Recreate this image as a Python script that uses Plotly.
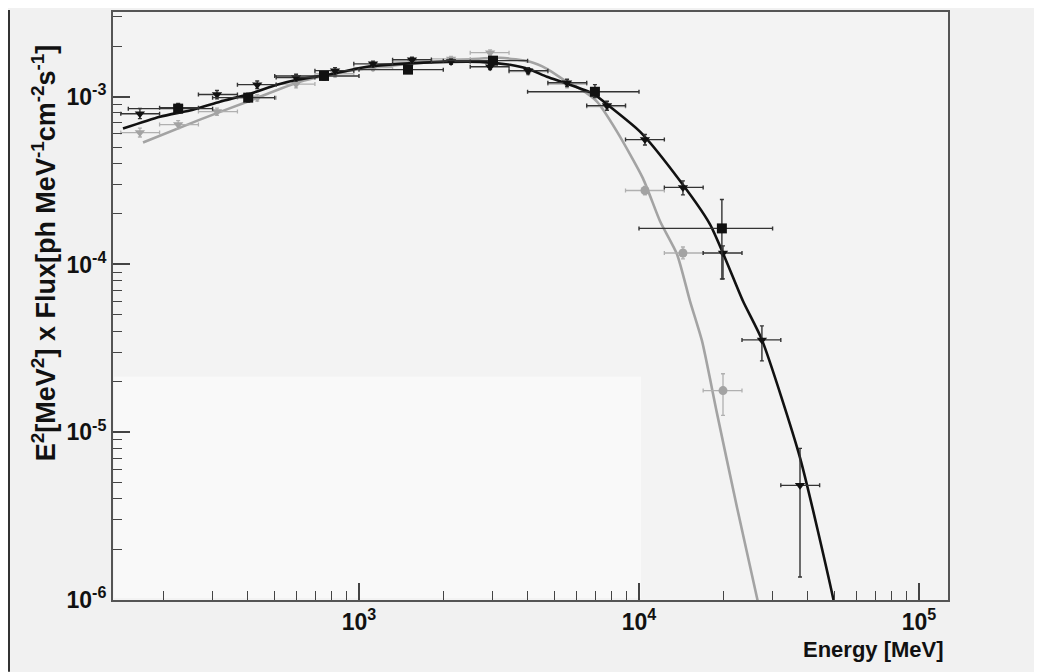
import plotly.graph_objects as go

# ---------------- data ----------------
# black inverted triangles
tri_E = [165, 226, 311, 433, 596, 821, 1122, 1546, 2132, 2939, 4018, 5534, 7687, 10502, 14354, 19953, 27479, 37584]
tri_F = [7.92e-4, 8.6e-4, 1.03e-3, 1.18e-3, 1.30e-3, 1.43e-3, 1.57e-3, 1.66e-3, 1.62e-3, 1.51e-3, 1.43e-3,
         1.21e-3, 8.85e-4, 5.55e-4, 2.88e-4, 1.17e-4, 3.55e-5, 4.82e-6]
tri_Elo = [141, 194, 267, 368, 506, 696, 958, 1318, 1814, 2496, 3435, 4727, 6505, 8951, 12318, 16950, 23325, 32098]
tri_Ehi = [194, 267, 368, 506, 696, 958, 1318, 1814, 2496, 3435, 4727, 6505, 8951, 12318, 16950, 23325, 32098, 44170]
tri_Flo = [7.4e-4, 8.1e-4, 9.7e-4, 1.12e-3, 1.24e-3, 1.37e-3, 1.51e-3, 1.60e-3, 1.56e-3, 1.45e-3, 1.37e-3,
           1.15e-3, 8.3e-4, 5.15e-4, 2.6e-4, 8.2e-5, 2.66e-5, 1.37e-6]
tri_Fhi = [8.5e-4, 9.1e-4, 1.09e-3, 1.24e-3, 1.36e-3, 1.49e-3, 1.63e-3, 1.72e-3, 1.68e-3, 1.57e-3, 1.49e-3,
           1.27e-3, 9.4e-4, 5.95e-4, 3.15e-4, 1.29e-4, 4.30e-5, 8.0e-6]

# black squares
sq_E = [226, 402, 750, 1496, 3010, 6960, 19770]
sq_F = [8.49e-4, 9.87e-4, 1.33e-3, 1.45e-3, 1.64e-3, 1.07e-3, 1.64e-4]
sq_Elo = [150, 300, 500, 1000, 2000, 4000, 10000]
sq_Ehi = [300, 500, 1000, 2000, 4000, 10000, 30000]
sq_Flo = [8.0e-4, 9.3e-4, 1.26e-3, 1.38e-3, 1.56e-3, 9.9e-4, 8.18e-5]
sq_Fhi = [9.0e-4, 1.05e-3, 1.40e-3, 1.52e-3, 1.72e-3, 1.18e-3, 2.44e-4]

# gray points
gr_E = [165, 226, 311, 433, 596, 821, 1122, 1546, 2132, 2939, 4018, 5534, 7687, 10502, 14354, 19953]
gr_F = [6.11e-4, 6.82e-4, 8.15e-4, 9.86e-4, 1.19e-3, 1.37e-3, 1.49e-3, 1.61e-3, 1.68e-3, 1.83e-3, 1.41e-3,
        1.19e-3, 8.73e-4, 2.76e-4, 1.17e-4, 1.77e-5]
gr_Elo = [141, 194, 267, 368, 506, 696, 958, 1318, 1814, 2496, 3435, 4727, 6505, 8951, 12318, 16950]
gr_Ehi = [194, 267, 368, 506, 696, 958, 1318, 1814, 2496, 3435, 4727, 6505, 8951, 12318, 16950, 23325]
gr_Flo = [5.75e-4, 6.45e-4, 7.75e-4, 9.4e-4, 1.13e-3, 1.31e-3, 1.43e-3, 1.55e-3, 1.62e-3, 1.76e-3, 1.35e-3,
          1.13e-3, 8.3e-4, 2.6e-4, 1.08e-4, 1.26e-5]
gr_Fhi = [6.5e-4, 7.2e-4, 8.55e-4, 1.03e-3, 1.25e-3, 1.43e-3, 1.55e-3, 1.67e-3, 1.74e-3, 1.90e-3, 1.47e-3,
          1.25e-3, 9.2e-4, 2.92e-4, 1.27e-4, 2.23e-5]

# black model curve
bc_E = [143.6, 194.7, 255.5, 318.8, 408, 509.7, 600.6, 807.5, 1068, 1400, 2061, 2705, 3461, 4014, 4690, 5531,
        6851, 7874, 10080, 13220, 17930, 23510, 27490, 37580, 49320, 54460]
bc_F = [6.46e-4, 7.60e-4, 8.37e-4, 9.34e-4, 1.042e-3, 1.178e-3, 1.262e-3, 1.370e-3, 1.508e-3, 1.570e-3, 1.614e-3,
        1.614e-3, 1.549e-3, 1.466e-3, 1.314e-3, 1.194e-3, 1.042e-3, 8.72e-4, 6.19e-4, 3.58e-4, 1.734e-4,
        6.05e-5, 3.55e-5, 7.06e-6, 1.03e-6, 4.4e-7]

# gray model curve
gc_E = [169.3, 270.4, 408, 615.6, 928.5, 1400, 2113, 3189, 4083, 4690, 5531, 6155, 7079, 8345, 10330, 11890,
        13670, 15210, 16790, 19000, 22390, 26390, 29380]
gc_F = [5.33e-4, 7.30e-4, 9.47e-4, 1.227e-3, 1.427e-3, 1.549e-3, 1.637e-3, 1.706e-3, 1.614e-3, 1.466e-3,
        1.227e-3, 1.117e-3, 9.34e-4, 6.19e-4, 3.26e-4, 1.81e-4, 1.151e-4, 6.05e-5, 3.50e-5, 1.29e-5, 3.56e-6,
        1.03e-6, 4.4e-7]

x_major = [1e3, 1e4, 1e5]
x_major_text = ["10<sup>3</sup>", "10<sup>4</sup>", "10<sup>5</sup>"]
y_major = [1e-6, 1e-5, 1e-4, 1e-3]
y_major_text = ["10<sup>-6</sup>", "10<sup>-5</sup>", "10<sup>-4</sup>", "10<sup>-3</sup>"]

# ---------------- figure ----------------
BLACK = "#111111"
GRAY = "#a3a3a3"
FONT = "Liberation Sans Narrow, Liberation Sans, Arial, sans-serif"


def err(vals, lo, hi):
    return ([h - v for v, h in zip(vals, hi)], [v - l for v, l in zip(vals, lo)])


fig = go.Figure()

fig.add_trace(go.Scatter(x=gc_E, y=gc_F, mode="lines", line=dict(color=GRAY, width=2.6, shape="spline", smoothing=0.6),
                         hoverinfo="skip", showlegend=False))
gx_p, gx_m = err(gr_E, gr_Elo, gr_Ehi)
gy_p, gy_m = err(gr_F, gr_Flo, gr_Fhi)
gr_sym = ["triangle-down" if e < 9000 else "circle" for e in gr_E]
fig.add_trace(go.Scatter(x=gr_E, y=gr_F, mode="markers",
                         marker=dict(symbol=gr_sym, size=9, color=GRAY),
                         error_x=dict(type="data", array=gx_p, arrayminus=gx_m, color="#b0b0b0", thickness=1.3, width=2),
                         error_y=dict(type="data", array=gy_p, arrayminus=gy_m, color="#b0b0b0", thickness=1.3, width=2),
                         showlegend=False))
fig.add_trace(go.Scatter(x=bc_E, y=bc_F, mode="lines", line=dict(color=BLACK, width=2.6, shape="spline", smoothing=0.6),
                         hoverinfo="skip", showlegend=False))
tx_p, tx_m = err(tri_E, tri_Elo, tri_Ehi)
ty_p, ty_m = err(tri_F, tri_Flo, tri_Fhi)
fig.add_trace(go.Scatter(x=tri_E, y=tri_F, mode="markers",
                         marker=dict(symbol="triangle-down", size=9, color=BLACK),
                         error_x=dict(type="data", array=tx_p, arrayminus=tx_m, color="#333333", thickness=1.4, width=2),
                         error_y=dict(type="data", array=ty_p, arrayminus=ty_m, color="#333333", thickness=1.4, width=2),
                         showlegend=False))
sx_p, sx_m = err(sq_E, sq_Elo, sq_Ehi)
sy_p, sy_m = err(sq_F, sq_Flo, sq_Fhi)
fig.add_trace(go.Scatter(x=sq_E, y=sq_F, mode="markers",
                         marker=dict(symbol="square", size=10, color=BLACK),
                         error_x=dict(type="data", array=sx_p, arrayminus=sx_m, color="#333333", thickness=1.4, width=2),
                         error_y=dict(type="data", array=sy_p, arrayminus=sy_m, color="#333333", thickness=1.4, width=2),
                         showlegend=False))

# page offset of the figure (default body margin of the page)
OFF = 8
W, H = 1042 - OFF, 672 - OFF
L, T = 113 - OFF, 10 - OFF
pw, ph = 835, 590
R = W - L - pw
B = H - T - ph


def px(xp):  # page pixel -> paper x
    return (xp - OFF - L) / pw


def py(yp):  # page pixel -> paper y
    return (T + ph - (yp - OFF)) / ph


minor_x = [v * m for m in (100, 1000, 10000) for v in range(2, 10)]
minor_x = [v for v in minor_x if 132 < v < 127000]
minor_y = [v * m for m in (1e-6, 1e-5, 1e-4, 1e-3) for v in range(2, 10)]
minor_y = [v for v in minor_y if v < 3.2e-3]

fig.update_layout(
    width=W, height=H,
    margin=dict(l=L, r=R, t=T, b=B),
    paper_bgcolor="#f1f1f1",
    plot_bgcolor="#f3f3f3",
    font=dict(family=FONT, color="#111111"),
    xaxis=dict(type="log", range=[2.1214, 5.1036], showgrid=False, zeroline=False,
               tickmode="array", tickvals=x_major, ticktext=[f"<b>{t}</b>" for t in x_major_text],
               ticks="inside", ticklen=17, tickwidth=1.5, tickcolor="#444444",
               tickfont=dict(size=23, family=FONT, color="#111111"),
               minor=dict(tickmode="array", tickvals=minor_x, ticks="inside", ticklen=9, tickwidth=1.3, tickcolor="#444444"),
               showline=True, linecolor="#555555", linewidth=2, mirror=True),
    yaxis=dict(type="log", range=[-6.0006, -2.495], showgrid=False, zeroline=False,
               tickmode="array", tickvals=y_major, ticktext=[f"<b>{t}</b>" for t in y_major_text],
               ticks="inside", ticklen=17, tickwidth=1.5, tickcolor="#444444",
               tickfont=dict(size=23, family=FONT, color="#111111"),
               minor=dict(tickmode="array", tickvals=minor_y, ticks="inside", ticklen=9, tickwidth=1.3, tickcolor="#444444"),
               showline=True, linecolor="#555555", linewidth=2, mirror=True),
    shapes=[
        dict(type="rect", xref="paper", yref="paper", x0=px(114), x1=px(641), y0=py(598), y1=py(376),
             fillcolor="#f9f9f9", line=dict(width=0), layer="below"),
        dict(type="line", xref="paper", yref="paper", x0=px(OFF + 1), x1=px(OFF + 1), y0=py(OFF), y1=py(672),
             line=dict(color="#333333", width=2)),
    ],
    annotations=[
        dict(text="<b>E<sup>2</sup>[MeV<sup>2</sup>] x Flux[ph MeV<sup>-1</sup>cm<sup>-2</sup>s<sup>-1</sup>]</b>",
             xref="paper", yref="paper", x=px(44), y=py(252), textangle=-90, showarrow=False,
             xanchor="center", yanchor="middle", font=dict(size=27, family=FONT, color="#111111")),
        dict(text="<b>Energy [MeV]</b>", xref="paper", yref="paper", x=px(946), y=py(650), showarrow=False,
             xanchor="right", yanchor="middle", font=dict(size=22, family=FONT, color="#111111")),
    ],
)

fig.write_html("out.html")
